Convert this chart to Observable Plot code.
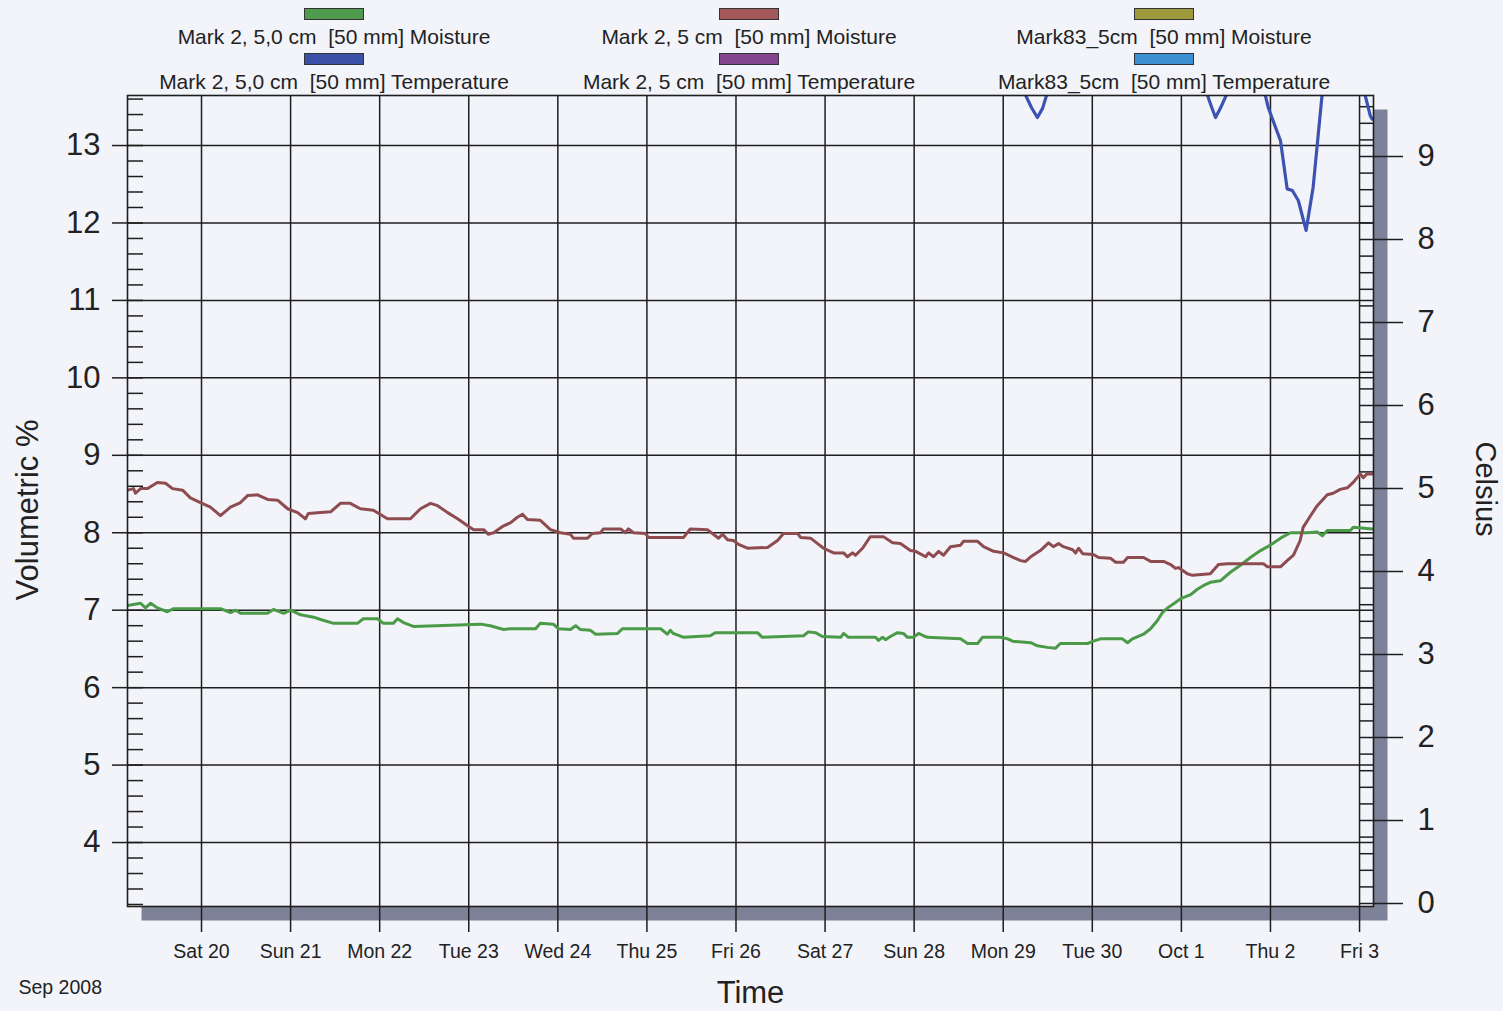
<!DOCTYPE html>
<html><head><meta charset="utf-8">
<script src="https://cdn.jsdelivr.net/npm/d3@7"></script>
<script src="https://cdn.jsdelivr.net/npm/@observablehq/plot@0.6"></script>
<style>
html,body{margin:0;padding:0;background:#f2f4f9;}
#wrap{position:relative;width:1503px;height:1011px;font-family:"Liberation Sans",Arial,sans-serif;color:#222;overflow:hidden;}
#wrap svg{position:absolute;left:0;top:0;}
.leg{position:absolute;width:460px;text-align:center;font-size:21px;line-height:21px;white-space:pre;color:#222;}
.sw{position:absolute;width:58px;height:10px;border:1px solid #333;}
</style></head><body><div id="wrap"></div>
<script>
// ---- data (hours after 2008-09-20 00:00, value) ----
const startDay = Date.UTC(2008, 8, 20);

// Mark 2, 5,0 cm [50 mm] Moisture (Volumetric %)
const moistureMark2_50 = [
[-19.9,7.06],[-16.4,7.09],[-15.1,7.03],[-13.7,7.09],[-11.9,7.03],[-9.2,6.98],[-7.5,7.02],[-3.8,7.02],
[5.1,7.02],[7.8,6.97],[9.2,7.00],[10.5,6.96],[17.8,6.96],[19.4,7.01],[22.1,6.96],[24.0,7.00],[26.7,6.94],
[30.2,6.91],[32.1,6.88],[35.6,6.83],[42.0,6.83],[43.6,6.89],[47.4,6.89],[49.0,6.83],[51.7,6.83],[52.8,6.89],
[54.4,6.84],[57.1,6.79],[75.2,6.82],[77.8,6.80],[81.4,6.75],[83.3,6.76],[90.0,6.76],[91.3,6.83],[94.8,6.82],
[96.2,6.76],[99.4,6.75],[100.8,6.80],[102.1,6.75],[104.8,6.74],[106.2,6.69],[112.1,6.70],[113.4,6.76],
[123.7,6.76],[125.5,6.69],[126.3,6.74],[127.1,6.70],[129.9,6.65],[137.1,6.67],[138.4,6.71],[149.8,6.71],
[151.1,6.65],[162.2,6.67],[163.5,6.72],[165.4,6.71],[167.3,6.66],[172.2,6.65],[173.0,6.70],[174.3,6.65],
[181.6,6.65],[182.4,6.61],[183.5,6.65],[184.3,6.62],[185.6,6.66],[187.5,6.71],[189.1,6.70],[190.2,6.65],
[191.8,6.65],[193.2,6.70],[194.5,6.67],[195.6,6.65],[204.5,6.63],[206.4,6.57],[209.1,6.57],[210.4,6.65],
[215.3,6.65],[217.2,6.63],[218.5,6.60],[223.4,6.58],[225.2,6.54],[227.9,6.52],[230.1,6.51],[231.4,6.57],
[238.7,6.57],[240.3,6.60],[242.2,6.63],[248.1,6.63],[249.5,6.58],[250.8,6.63],[253.8,6.69],[255.7,6.76],
[257.6,6.87],[258.9,6.97],[260.3,7.03],[262.4,7.10],[263.8,7.15],[266.5,7.20],[268.3,7.27],[270.0,7.32],
[271.8,7.36],[274.5,7.38],[277.2,7.49],[279.9,7.58],[282.6,7.68],[285.3,7.77],[288.0,7.84],[290.7,7.93],
[293.4,8.00],[298.0,8.00],[300.6,8.01],[302.0,7.96],[303.3,8.03],[309.5,8.03],[310.3,8.07],[315.4,8.05]
];

// Mark 2, 5 cm [50 mm] Moisture (Volumetric %)
const moistureMark2_5 = [
[-19.9,8.55],[-18.3,8.57],[-17.8,8.51],[-16.4,8.57],[-14.5,8.57],[-11.9,8.65],[-9.7,8.64],[-7.8,8.57],
[-5.1,8.55],[-3.0,8.45],[-0.3,8.39],[2.4,8.33],[5.1,8.22],[7.8,8.33],[10.5,8.39],[12.4,8.48],[15.1,8.49],
[17.8,8.43],[20.5,8.42],[23.2,8.31],[25.9,8.26],[28.0,8.18],[28.8,8.25],[32.1,8.26],[34.8,8.27],[37.4,8.38],
[40.1,8.38],[42.8,8.31],[46.3,8.29],[50.1,8.18],[56.3,8.18],[59.0,8.31],[61.7,8.38],[63.6,8.35],[66.3,8.26],
[69.0,8.18],[71.7,8.09],[73.3,8.04],[76.0,8.04],[77.3,7.98],[78.7,8.00],[81.4,8.09],[83.3,8.13],[85.1,8.20],
[86.5,8.24],[87.8,8.17],[91.3,8.16],[94.0,8.04],[96.7,8.00],[99.4,7.98],[100.2,7.93],[104.0,7.93],[105.3,7.99],
[107.5,8.00],[108.3,8.05],[112.9,8.05],[114.2,8.00],[115.0,8.05],[116.4,8.00],[119.6,7.99],[120.4,7.94],
[129.9,7.94],[131.7,8.05],[136.3,8.04],[137.9,7.98],[139.3,7.93],[140.4,7.98],[141.7,7.91],[143.3,7.90],
[144.7,7.85],[147.1,7.80],[152.5,7.81],[155.2,7.90],[156.8,7.99],[160.6,7.99],[161.4,7.94],[164.1,7.93],
[166.0,7.86],[167.6,7.80],[170.3,7.74],[173.0,7.74],[174.0,7.69],[175.4,7.74],[176.2,7.71],[178.1,7.80],
[180.2,7.95],[183.7,7.95],[186.2,7.87],[188.3,7.86],[191.0,7.77],[192.4,7.76],[195.1,7.69],[195.9,7.74],
[197.2,7.69],[198.6,7.76],[199.9,7.71],[201.8,7.82],[204.5,7.84],[205.3,7.89],[209.1,7.89],[210.7,7.82],
[213.4,7.76],[216.1,7.74],[218.8,7.68],[220.7,7.64],[222.0,7.63],[223.4,7.69],[226.0,7.77],[228.2,7.87],
[229.5,7.82],[230.9,7.86],[232.2,7.82],[234.7,7.78],[235.5,7.74],[236.3,7.80],[237.4,7.73],[240.3,7.72],
[241.7,7.68],[244.9,7.67],[246.3,7.62],[248.4,7.62],[249.5,7.68],[253.8,7.68],[255.7,7.63],[259.2,7.63],
[261.1,7.59],[262.4,7.54],[263.2,7.55],[265.6,7.47],[267.0,7.45],[271.8,7.47],[274.0,7.59],[276.4,7.60],
[286.1,7.60],[287.2,7.56],[290.7,7.56],[292.5,7.64],[294.2,7.71],[296.0,7.90],[296.8,8.07],[298.8,8.22],
[300.6,8.35],[303.3,8.49],[304.9,8.51],[306.8,8.56],[308.7,8.58],[310.3,8.65],[312.2,8.76],[313.0,8.71],
[314.0,8.76],[315.4,8.76]
];

// Mark 2, 5,0 cm [50 mm] Temperature (Celsius) - mostly above the top of the chart
const temperatureMark2_50 = [
[-19.9,12.0],[100.0,12.0],[216.6,11.5],[222.0,9.74],[223.6,9.59],[225.2,9.47],[226.6,9.58],[227.7,9.74],
[232.8,11.5],[266.5,11.5],[271.0,9.74],[272.1,9.60],[273.2,9.47],[274.5,9.58],[276.1,9.74],[281.2,11.5],
[286.6,9.74],[287.4,9.59],[290.7,9.19],[292.5,8.61],[293.9,8.59],[295.5,8.47],[297.6,8.11],[299.5,8.63],
[301.9,9.74],[305.4,11.5],[309.5,11.5],[313.5,9.74],[314.9,9.49],[315.4,9.45]
];

const dayLabels = ["Sat 20","Sun 21","Mon 22","Tue 23","Wed 24","Thu 25","Fri 26","Sat 27","Sun 28","Mon 29","Tue 30","Oct 1","Thu 2","Fri 3"];
const leftTicks = [4,5,6,7,8,9,10,11,12,13];
const rightTicks = [0,1,2,3,4,5,6,7,8,9];
const leftMinor = d3.range(16, 69).map(i => i / 5);
const rightMinor = d3.range(0, 49).map(i => i / 5);

const legendItems = [
  {label:"Mark 2, 5,0 cm  [50 mm] Moisture", color:"#4f9a4f", col:0, row:0},
  {label:"Mark 2, 5,0 cm  [50 mm] Temperature", color:"#3b50a8", col:0, row:1},
  {label:"Mark 2, 5 cm  [50 mm] Moisture", color:"#a3585a", col:1, row:0},
  {label:"Mark 2, 5 cm  [50 mm] Temperature", color:"#83468e", col:1, row:1},
  {label:"Mark83_5cm  [50 mm] Moisture", color:"#9d9b3b", col:2, row:0},
  {label:"Mark83_5cm  [50 mm] Temperature", color:"#3b90d2", col:2, row:1}
];

// ---- scales ----
const leftDomain = [3.174, 13.646];
const rightDomain = [-0.0361, 9.735];
const k = (leftDomain[1]-leftDomain[0])/(rightDomain[1]-rightDomain[0]);
const tToLeft = t => leftDomain[0] + (t - rightDomain[0]) * k;
const leftToT = v => rightDomain[0] + (v - leftDomain[0]) / k;
const toDate = h => new Date(startDay + h * 3600e3);
const days = dayLabels.map((_, i) => new Date(startDay + i * 864e5));
const bg = "#f2f4f9";
const ink = "#1e1e1e";

const chart = Plot.plot({
  width: 1503, height: 1011,
  marginTop: 95, marginBottom: 105, marginLeft: 127, marginRight: 130,
  style: {background: "transparent", fontFamily: "'Liberation Sans', Arial, sans-serif", color: "#222"},
  x: {type: "utc", domain: [toDate(-19.94), toDate(315.76)]},
  y: {domain: leftDomain},
  marks: [
    Plot.frame({fill: "#7e8299", stroke: null, dx: 14, dy: 14}),
    Plot.frame({fill: bg, stroke: null}),
    Plot.gridY(leftTicks, {stroke: ink, strokeOpacity: 1, strokeWidth: 1.5}),
    Plot.gridX(days, {stroke: ink, strokeOpacity: 1, strokeWidth: 1.5}),
    Plot.axisY(leftMinor, {anchor: "left", tickSize: 16, dx: 16, tickFormat: () => "", label: null, stroke: ink, strokeWidth: 1.5}),
    Plot.axisY(rightMinor.map(tToLeft), {anchor: "right", tickSize: 14, dx: -14, tickFormat: () => "", label: null, stroke: ink, strokeWidth: 1.5}),
    Plot.line(moistureMark2_50, {x: d => toDate(d[0]), y: d => d[1], stroke: "#4a9a48", strokeWidth: 3, clip: true}),
    Plot.line(moistureMark2_5, {x: d => toDate(d[0]), y: d => d[1], stroke: "#8e4b50", strokeWidth: 3, clip: true}),
    Plot.line(temperatureMark2_50, {x: d => toDate(d[0]), y: d => tToLeft(d[1]), stroke: "#3e52b2", strokeWidth: 3.2, clip: true}),
    Plot.frame({stroke: ink, strokeWidth: 1.6}),
    Plot.axisY(leftTicks, {anchor: "left", tickSize: 15, tickPadding: 12, fontSize: 31, label: null, stroke: ink, strokeWidth: 1.5,
      tickFormat: v => String(v)}),
    Plot.axisY(rightTicks.map(tToLeft), {anchor: "right", tickSize: 29, tickPadding: 15, fontSize: 31, label: null, stroke: ink, strokeWidth: 1.5,
      tickFormat: v => String(Math.round(leftToT(v)))}),
    Plot.axisX(days, {anchor: "bottom", tickSize: 26, tickPadding: 12, fontSize: 19.5, label: null, stroke: ink, strokeWidth: 1.5,
      tickFormat: d => dayLabels[Math.round((d - startDay) / 864e5)]}),
    Plot.text(["Volumetric %"], {frameAnchor: "left", dx: -99, dy: 9, rotate: -90, textAnchor: "middle", fontSize: 31, fill: "#222"}),
    Plot.text(["Celsius"], {frameAnchor: "right", dx: 112, dy: -12, rotate: 90, textAnchor: "middle", fontSize: 29, fill: "#222"}),
    Plot.text(["Time"], {frameAnchor: "bottom", dy: 96, textAnchor: "middle", fontSize: 31, fill: "#222"}),
    Plot.text(["Sep 2008"], {frameAnchor: "bottom-left", dx: -109, dy: 87, textAnchor: "start", fontSize: 19.5, fill: "#222"})
  ]
});

const wrap = document.getElementById("wrap");
wrap.appendChild(chart);

// legend (above the plot frame)
const colCenters = [334, 749, 1164];
const swatchTops = [8, 53];
const textTops = [26, 71];
for (const it of legendItems) {
  const sw = document.createElement("div");
  sw.className = "sw";
  sw.style.left = (colCenters[it.col] - 30) + "px";
  sw.style.top = swatchTops[it.row] + "px";
  sw.style.background = it.color;
  wrap.appendChild(sw);
  const t = document.createElement("div");
  t.className = "leg";
  t.style.left = (colCenters[it.col] - 230) + "px";
  t.style.top = textTops[it.row] + "px";
  t.textContent = it.label;
  wrap.appendChild(t);
}
</script></body></html>
